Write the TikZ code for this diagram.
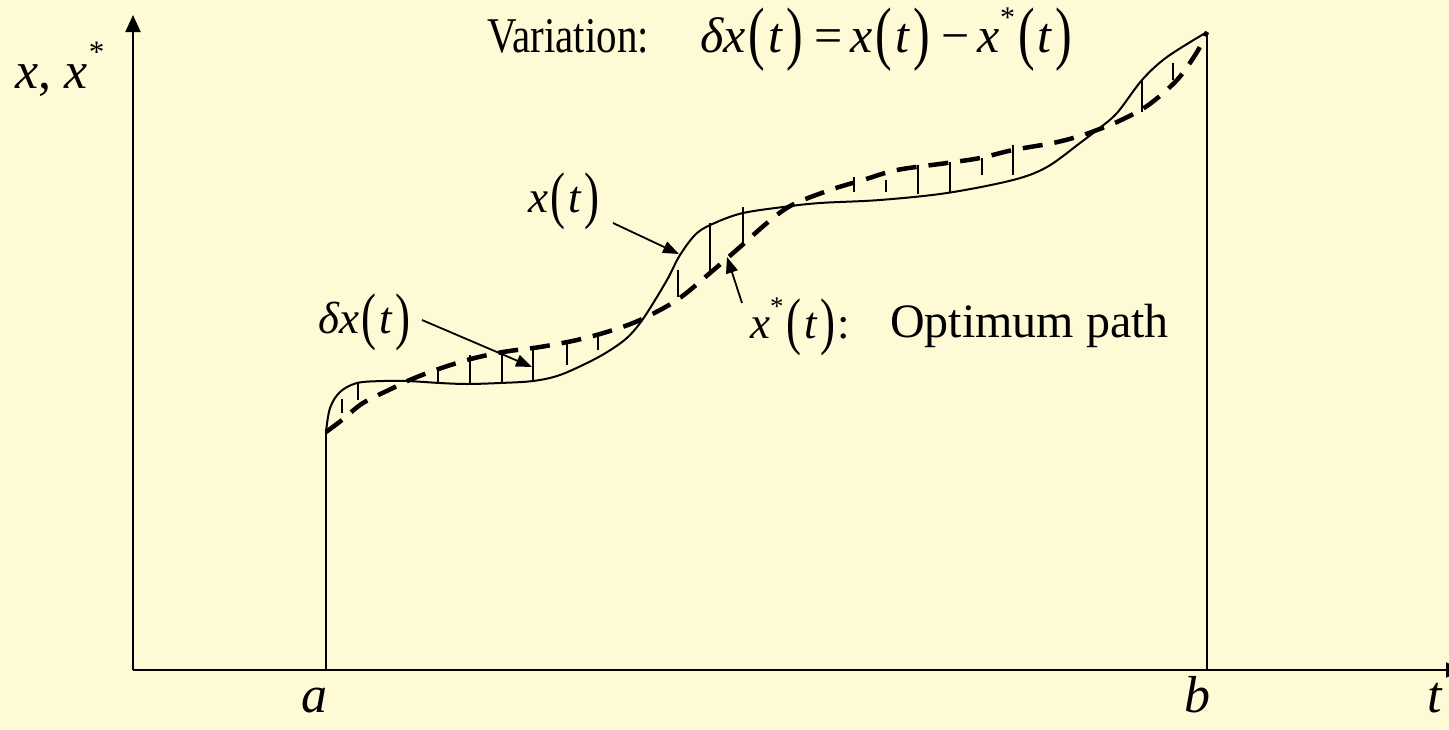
\documentclass[tikz,border=0pt]{standalone}
\usepackage{fontspec}
\setmainfont{Liberation Serif}
\usetikzlibrary{arrows.meta}
\definecolor{bgyellow}{RGB}{255,250,214}
\newcommand{\iv}[1]{\textit{#1}}
\newcommand{\lpar}{\kern0.06em\raisebox{-0.09em}{\scalebox{1}[1.4]{(}}\kern0.06em}
\newcommand{\rpar}{\kern0.06em\raisebox{-0.09em}{\scalebox{1}[1.4]{)}}\kern0.06em}
\newcommand{\supstar}{\raisebox{0.5em}{\scalebox{0.6}{*}}}
\tikzset{
  axisline/.style={line width=2pt,-{Triangle[length=17pt,width=15pt]}},
  plainline/.style={line width=2pt},
  pathx/.style={line width=2pt},
  pathopt/.style={line width=4.5pt,dash pattern=on 20pt off 12pt},
  varbar/.style={line width=1.8pt},
  pointer/.style={line width=1.8pt,-{Triangle[length=16pt,width=12pt]}},
  lbl/.style={inner sep=0pt,anchor=base west,font=\fontsize{45}{50}\selectfont},
  axlbl/.style={inner sep=0pt,anchor=base,font=\fontsize{52}{56}\selectfont\itshape},
  ttl/.style={inner sep=0pt,anchor=base west,font=\fontsize{50}{56}\selectfont}
}
\begin{document}
\begin{tikzpicture}[x=1pt,y=-1pt]
\useasboundingbox (0,0) rectangle (1449,729);
\fill[bgyellow] (0,0) rectangle (1449,729);
\clip (0,0) rectangle (1449,729);
% coordinates
\coordinate (O) at (133,670);
\coordinate (ytip) at (133,15);
\coordinate (xtip) at (1463,670);
\coordinate (A0) at (326,670);
\coordinate (A1) at (326,432);
\coordinate (B0) at (1207,670);
\coordinate (B1) at (1207,32);
% axes
\draw[axisline] (O) -- (ytip);
\draw[axisline] (O) -- (xtip);
\draw[plainline] (A0) -- (A1);
\draw[plainline] (B0) -- (B1);
% solid path x(t)
\draw[pathx] plot[smooth,tension=0.55] coordinates {
 (326,432) (330,408) (340,392) (357,383) (383,381) (407,381) (440,383)
 (467,384) (500,383) (533,381) (560,375) (593,360) (615,347) (630,335)
 (645,316) (667,280) (680,255) (697,233) (717,222) (743,213) (783,207)
 (820,203) (880,200) (947,193) (1013,180) (1047,167) (1080,143) (1097,130)
 (1117,113) (1142,80) (1167,57) (1207,32)};
% dashed optimum path
\draw[pathopt] plot[smooth,tension=0.55] coordinates {
 (326,432) (342,420) (363,403) (393,388) (405,382) (430,372) (467,360)
 (503,352) (540,347) (577,340) (610,331) (640,320) (677,300) (710,273)
 (740,247) (767,223) (792,205) (830,190) (863,180) (897,170) (947,163)
 (980,158) (1013,150) (1053,143) (1080,136) (1097,130) (1117,122)
 (1147,106) (1177,80) (1197,52) (1207,32)};
% variation bars
\foreach \xx/\ya/\yb in {342/399/413, 358/383/400, 438/370/383, 470/355/385,
  502/352/384, 533/348/382, 567/340/365, 598/337/350, 678/270/297,
  710/223/272, 743/207/243, 854/177/192, 886/180/192, 918/165/194,
  950/162/192, 982/158/175, 1013/145/175, 1142/80/112, 1173/63/80}
  \draw[varbar] (\xx,\ya) -- (\xx,\yb);
% labels
\node[ttl] (ttlA) at (487,52) {\scalebox{0.82}[1]{Variation:}};
\node[ttl] (ttlB) at (700,52) {\iv{δx}\lpar\iv{t}\rpar\,=\,\iv{x}\lpar\iv{t}\rpar\,−\,\iv{x}\supstar\lpar\iv{t}\rpar};
\node[lbl] (lx) at (528,212) {\iv{x}\lpar\iv{t}\rpar};
\node[lbl] (ldx) at (318,333) {\iv{δx}\lpar\iv{t}\rpar};
\node[lbl] (lopt) at (750,338) {\iv{x}\supstar\lpar\iv{t}\rpar:};
\node[lbl,font=\fontsize{48}{52}\selectfont] (lopt2) at (890,337) {Optimum path};
\node[axlbl,anchor=base west] (ly) at (15,88) {x\upshape, \itshape x\supstar};
\node[axlbl] (la) at (314,712) {a};
\node[axlbl] (lb) at (1197,712) {b};
\node[axlbl,anchor=base east] (lt) at (1442,712) {t};
% pointer arrows
\coordinate (px) at (679,254);
\coordinate (popt) at (727,257);
\coordinate (pdx) at (532,367);
\draw[pointer] (613,223) -- (px);
\draw[pointer] (742,303) -- (popt);
\draw[pointer] (422,320) -- (pdx);
\end{tikzpicture}
\end{document}
